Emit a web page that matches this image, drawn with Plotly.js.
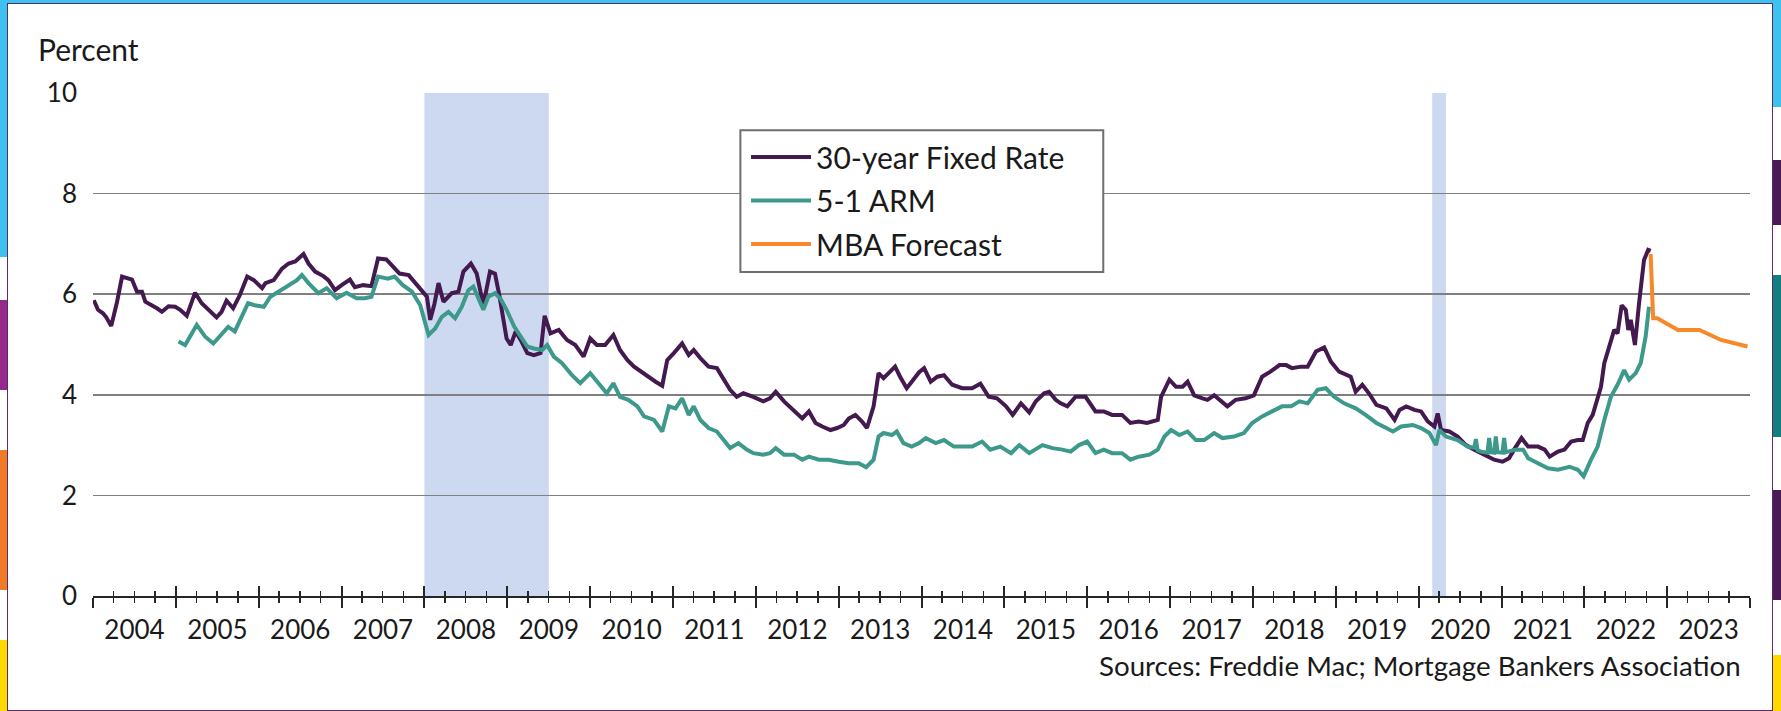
<!DOCTYPE html>
<html><head><meta charset="utf-8">
<script src="https://cdn.plot.ly/plotly-3.0.1.min.js"></script>
<style>
html,body{margin:0;padding:0;width:1781px;height:711px;overflow:hidden;background:#fff;}
#frame{position:absolute;left:0;top:0;width:1781px;height:711px;background:#3dc1ee;}
#panel{position:absolute;left:7px;top:3px;width:1766px;height:708px;background:#fff;border:1.5px solid #5a2a6a;box-sizing:border-box;}
.s{position:absolute;}
#chart{position:absolute;left:0;top:0;width:1781px;height:711px;}
</style></head>
<body>
<div id="frame">
  <div class="s" style="left:0;top:257px;width:7px;height:43px;background:#fff"></div>
  <div class="s" style="left:0;top:300px;width:7px;height:90px;background:#952a8d"></div>
  <div class="s" style="left:0;top:390px;width:7px;height:60px;background:#fff"></div>
  <div class="s" style="left:0;top:450px;width:7px;height:140px;background:#f07b27"></div>
  <div class="s" style="left:0;top:590px;width:7px;height:50px;background:#fff"></div>
  <div class="s" style="left:0;top:640px;width:7px;height:71px;background:#ffd800"></div>
  <div class="s" style="left:1773px;top:107px;width:8px;height:53px;background:#fff"></div>
  <div class="s" style="left:1773px;top:160px;width:8px;height:65px;background:#4a1a55"></div>
  <div class="s" style="left:1773px;top:225px;width:8px;height:50px;background:#fff"></div>
  <div class="s" style="left:1773px;top:275px;width:8px;height:162px;background:#137e80"></div>
  <div class="s" style="left:1773px;top:437px;width:8px;height:53px;background:#fff"></div>
  <div class="s" style="left:1773px;top:490px;width:8px;height:110px;background:#4a1a55"></div>
  <div class="s" style="left:1773px;top:600px;width:8px;height:55px;background:#fff"></div>
  <div class="s" style="left:1773px;top:655px;width:8px;height:56px;background:#ffd800"></div>
  <div id="panel"></div>
</div>
<div id="chart"></div>
<script>
// ---- Data (decimal years, percent) ----
const fixedT = [2004.01,2004.06,2004.12,2004.16,2004.22,2004.29,2004.35,2004.41,2004.47,2004.53,2004.59,2004.63,2004.71,2004.77,2004.83,2004.91,2004.99,
2005.05,2005.13,2005.23,2005.31,2005.39,2005.49,2005.55,2005.61,2005.69,2005.77,2005.86,2005.94,
2006.04,2006.08,2006.18,2006.28,2006.36,2006.44,2006.54,2006.60,2006.68,2006.78,2006.84,2006.92,
2007.00,2007.10,2007.16,2007.26,2007.36,2007.44,2007.54,2007.62,2007.70,2007.81,2007.91,2007.97,
2008.03,2008.07,2008.12,2008.17,2008.23,2008.33,2008.41,2008.47,2008.56,2008.63,2008.71,2008.79,2008.85,2008.90,2008.95,2008.99,
2009.04,2009.10,2009.16,2009.24,2009.32,2009.40,2009.45,2009.52,2009.62,2009.72,2009.82,2009.92,
2010.00,2010.08,2010.18,2010.28,2010.36,2010.45,2010.53,2010.61,2010.71,2010.79,2010.87,2010.93,
2011.01,2011.11,2011.19,2011.25,2011.33,2011.43,2011.53,2011.61,2011.69,2011.77,2011.85,2011.97,
2012.09,2012.17,2012.24,2012.34,2012.46,2012.56,2012.64,2012.72,2012.80,2012.90,2012.98,
2013.06,2013.12,2013.20,2013.28,2013.34,2013.42,2013.48,2013.54,2013.60,2013.68,2013.74,2013.82,2013.90,2013.97,
2014.03,2014.11,2014.19,2014.27,2014.37,2014.49,2014.61,2014.71,2014.81,2014.91,
2015.02,2015.10,2015.20,2015.30,2015.38,2015.48,2015.54,2015.62,2015.68,2015.76,2015.86,2015.98,
2016.10,2016.20,2016.30,2016.42,2016.52,2016.62,2016.72,2016.85,2016.89,2016.99,
2017.07,2017.15,2017.21,2017.29,2017.39,2017.45,2017.53,2017.59,2017.69,2017.79,2017.91,
2018.01,2018.11,2018.21,2018.32,2018.40,2018.47,2018.58,2018.66,2018.76,2018.86,2018.94,
2019.04,2019.18,2019.24,2019.32,2019.40,2019.49,2019.61,2019.71,2019.77,2019.85,2019.95,
2020.03,2020.11,2020.19,2020.23,2020.27,2020.37,2020.47,2020.57,2020.67,2020.79,2020.91,
2021.01,2021.09,2021.15,2021.24,2021.32,2021.44,2021.52,2021.58,2021.68,2021.76,2021.84,2021.92,2021.98,
2022.04,2022.10,2022.16,2022.20,2022.24,2022.30,2022.36,2022.40,2022.45,2022.50,2022.53,2022.56,2022.61,2022.66,2022.72,2022.77,2022.80];
const fixedV = [5.88,5.69,5.62,5.54,5.37,5.85,6.35,6.31,6.29,6.05,6.05,5.85,5.78,5.72,5.65,5.76,5.75,
5.69,5.57,6.03,5.82,5.70,5.54,5.65,5.87,5.72,5.98,6.35,6.28,
6.12,6.22,6.28,6.51,6.61,6.65,6.80,6.61,6.45,6.36,6.28,6.08,
6.18,6.29,6.14,6.18,6.16,6.71,6.69,6.55,6.41,6.38,6.18,6.08,
5.95,5.49,5.80,6.22,5.85,6.02,6.05,6.45,6.61,6.41,5.78,6.45,6.41,6.00,5.45,5.12,
4.99,5.26,5.09,4.83,4.79,4.83,5.57,5.22,5.29,5.09,4.99,4.76,
5.12,4.99,4.99,5.19,4.89,4.69,4.56,4.46,4.36,4.26,4.18,4.69,
4.83,5.02,4.79,4.89,4.73,4.56,4.53,4.30,4.10,3.96,4.03,3.96,
3.87,3.93,4.06,3.87,3.67,3.53,3.67,3.44,3.37,3.30,3.34,
3.40,3.53,3.60,3.47,3.34,3.77,4.43,4.33,4.43,4.56,4.36,4.13,4.30,4.45,
4.53,4.26,4.36,4.39,4.20,4.13,4.13,4.22,3.96,3.93,
3.77,3.60,3.83,3.65,3.87,4.03,4.06,3.90,3.83,3.77,3.96,3.96,
3.67,3.67,3.60,3.60,3.44,3.47,3.44,3.50,3.96,4.30,
4.16,4.16,4.26,3.99,3.93,3.90,3.99,3.90,3.77,3.90,3.93,
3.99,4.36,4.46,4.59,4.59,4.53,4.56,4.56,4.86,4.94,4.66,
4.46,4.36,4.06,4.20,4.03,3.80,3.73,3.50,3.70,3.77,3.70,
3.67,3.47,3.37,3.63,3.30,3.27,3.17,3.00,2.91,2.81,2.71,
2.67,2.74,2.91,3.14,2.97,2.97,2.91,2.77,2.87,2.91,3.07,3.10,3.10,
3.44,3.60,3.90,4.16,4.63,4.99,5.29,5.22,5.78,5.69,5.29,5.49,4.99,5.82,6.68,6.88,6.86];

const armT = [2005.03,2005.11,2005.25,2005.35,2005.45,2005.55,2005.63,2005.71,2005.79,2005.87,2005.95,
2006.06,2006.14,2006.24,2006.36,2006.46,2006.52,2006.60,2006.72,2006.82,2006.94,
2007.06,2007.18,2007.28,2007.36,2007.44,2007.56,2007.64,2007.74,2007.85,2007.95,
2008.05,2008.13,2008.21,2008.29,2008.37,2008.45,2008.53,2008.59,2008.65,2008.71,2008.77,2008.85,2008.92,2008.99,
2009.08,2009.16,2009.24,2009.32,2009.42,2009.48,2009.56,2009.66,2009.78,2009.88,
2010.00,2010.10,2010.20,2010.28,2010.36,2010.46,2010.57,2010.65,2010.77,2010.87,2010.95,
2011.03,2011.11,2011.19,2011.25,2011.33,2011.43,2011.53,2011.61,2011.69,2011.79,2011.89,2011.97,
2012.09,2012.17,2012.24,2012.34,2012.46,2012.56,2012.64,2012.76,2012.88,
2013.00,2013.12,2013.24,2013.33,2013.42,2013.48,2013.54,2013.64,2013.70,2013.78,2013.88,2013.97,
2014.05,2014.17,2014.27,2014.39,2014.51,2014.61,2014.73,2014.83,2014.95,
2015.08,2015.18,2015.30,2015.46,2015.58,2015.70,2015.80,2015.90,
2016.00,2016.10,2016.20,2016.30,2016.42,2016.52,2016.62,2016.75,2016.85,2016.93,
2017.01,2017.11,2017.21,2017.31,2017.41,2017.53,2017.63,2017.77,2017.89,2017.99,
2018.11,2018.23,2018.35,2018.46,2018.56,2018.66,2018.78,2018.88,2018.98,
2019.10,2019.24,2019.36,2019.49,2019.61,2019.69,2019.79,2019.93,
2020.03,2020.13,2020.21,2020.25,2020.33,2020.47,2020.59,2020.67,2020.69,2020.71,2020.75,2020.83,2020.85,2020.87,2020.91,2020.93,2020.95,
2021.01,2021.03,2021.05,2021.17,2021.26,2021.32,2021.44,2021.56,2021.68,2021.82,2021.92,2021.99,
2022.08,2022.16,2022.24,2022.32,2022.40,2022.48,2022.54,2022.62,2022.68,2022.74,2022.78];
const armV = [5.06,4.99,5.39,5.16,5.02,5.22,5.35,5.26,5.55,5.82,5.78,
5.75,5.95,6.05,6.18,6.28,6.38,6.22,6.02,6.12,5.92,
6.03,5.92,5.92,5.95,6.35,6.31,6.35,6.18,6.05,5.78,
5.19,5.32,5.55,5.65,5.52,5.75,6.08,6.15,5.92,5.69,5.95,6.02,5.90,5.69,
5.36,5.16,4.96,4.92,4.89,4.99,4.76,4.63,4.39,4.23,
4.43,4.23,4.03,4.23,3.96,3.90,3.77,3.57,3.50,3.27,3.77,
3.73,3.93,3.60,3.77,3.50,3.34,3.27,3.10,2.94,3.04,2.91,2.84,
2.81,2.84,2.94,2.81,2.81,2.71,2.77,2.71,2.71,
2.67,2.64,2.64,2.56,2.71,3.17,3.24,3.20,3.27,3.04,2.97,3.04,
3.14,3.04,3.10,2.97,2.97,2.97,3.07,2.91,2.97,
2.84,3.00,2.84,3.00,2.94,2.91,2.87,3.00,
3.07,2.84,2.91,2.84,2.84,2.71,2.77,2.81,2.91,3.17,
3.30,3.20,3.27,3.10,3.10,3.24,3.14,3.17,3.24,3.44,
3.57,3.67,3.77,3.77,3.87,3.83,4.10,4.13,3.96,
3.83,3.73,3.60,3.44,3.34,3.27,3.37,3.40,
3.34,3.24,3.00,3.30,3.17,3.10,2.97,2.95,3.12,2.90,2.87,2.85,3.14,2.86,2.85,3.17,2.86,
2.85,3.14,2.86,2.91,2.91,2.74,2.64,2.54,2.51,2.57,2.51,2.38,
2.71,2.97,3.50,3.96,4.20,4.49,4.30,4.43,4.63,5.16,5.75];

const fcT = [2022.80,2022.83,2022.88,2023.13,2023.39,2023.65,2023.97];
const fcV = [6.80,5.52,5.52,5.29,5.29,5.09,4.96];

const seriesNames = ['30-year Fixed Rate','5-1 ARM','MBA Forecast'];
const recStart = [2008.0, 2020.164];
const recEnd   = [2009.5, 2020.33];
const yearRange = [2004, 2024];

// ---- helpers ----
function toDate(t){
  const y = Math.floor(t);
  const a = Date.UTC(y,0,1), b = Date.UTC(y+1,0,1);
  return new Date(a + (t-y)*(b-a)).toISOString().slice(0,19).replace('T',' ');
}
const FONT = 'Lato, "Open Sans", sans-serif';
const TXT = '#1a1a1a';

const traces = [
  {x: fixedT.map(toDate), y: fixedV, name: seriesNames[0], type:'scatter', mode:'lines',
   line:{color:'#43194f', width:4}, legendgroup:'a'},
  {x: armT.map(toDate), y: armV, name: seriesNames[1], type:'scatter', mode:'lines',
   line:{color:'#3c998c', width:4}, legendgroup:'b'},
  {x: fcT.map(toDate), y: fcV, name: seriesNames[2], type:'scatter', mode:'lines',
   line:{color:'#f7892a', width:4}, legendgroup:'c'},
  {x: [], y: [], xaxis:'x2', yaxis:'y', showlegend:false, hoverinfo:'skip', type:'scatter', mode:'lines'}
];

const shapes = recStart.map((s,i)=>({
  type:'rect', xref:'x', yref:'y', x0: toDate(s), x1: toDate(recEnd[i]), y0:0, y1:10,
  fillcolor:'#cdd9f0', line:{width:0}, layer:'below'
}));
// legend frame
shapes.push({type:'rect', xref:'paper', yref:'paper', x0:0.3907, x1:0.6097, y0:0.6439, y1:0.9259,
  fillcolor:'#ffffff', line:{color:'#6e6e6e', width:2}, layer:'above'});

const range = [toDate(yearRange[0]), toDate(yearRange[1])];

const layout = {
  width:1781, height:711,
  margin:{l:93, r:31, t:93, b:115, pad:0},
  paper_bgcolor:'rgba(0,0,0,0)', plot_bgcolor:'rgba(0,0,0,0)',
  font:{family:FONT, color:TXT},
  showlegend:true,
  legend:{x:0.3941, y:0.9245, xanchor:'left', yanchor:'top', bgcolor:'rgba(0,0,0,0)', borderwidth:0,
    itemwidth:60, font:{family:FONT, size:30, color:TXT}, tracegroupgap:1.5, traceorder:'grouped'},
  xaxis:{type:'date', range:range, tick0:'2004-01-01', dtick:'M12', tickformat:'%Y', ticklabelmode:'period',
    ticks:'outside', ticklen:10, tickwidth:2, tickcolor:'#262626',
    minor:{ticks:'outside', dtick:'M3', ticklen:5, tickwidth:1.5, tickcolor:'#262626', showgrid:false},
    showline:true, linecolor:'#262626', linewidth:2, showgrid:false, zeroline:false,
    tickfont:{family:FONT, size:26, color:TXT}, fixedrange:true},
  xaxis2:{type:'date', overlaying:'x', anchor:'y', range:range, tick0:'2004-01-01', dtick:'M12',
    ticks:'inside', ticklen:10, tickwidth:2, tickcolor:'#262626',
    minor:{ticks:'inside', dtick:'M3', ticklen:5, tickwidth:1.5, tickcolor:'#262626', showgrid:false},
    showticklabels:false, showline:false, showgrid:false, zeroline:false, fixedrange:true},
  yaxis:{range:[0,10], dtick:2, tick0:0, showgrid:true, gridcolor:'#7f7f7f', gridwidth:1.6,
    zeroline:false, showline:false, ticks:'', ticklabelstandoff:15,
    tickfont:{family:FONT, size:26, color:TXT}, fixedrange:true},
  shapes: shapes,
  annotations:[
    {xref:'paper', yref:'paper', x:-0.0345, y:1.0868, xanchor:'left', yanchor:'middle',
     text:'Percent', showarrow:false, font:{family:FONT, size:30, color:TXT}},
    {xref:'paper', yref:'paper', x:0.996, y:-0.1384, xanchor:'right', yanchor:'middle',
     text:'Sources: Freddie Mac; Mortgage Bankers Association', showarrow:false,
     font:{family:FONT, size:27.7, color:TXT}}
  ]
};

Plotly.newPlot('chart', traces, layout, {staticPlot:true, displayModeBar:false});
</script>
</body></html>
